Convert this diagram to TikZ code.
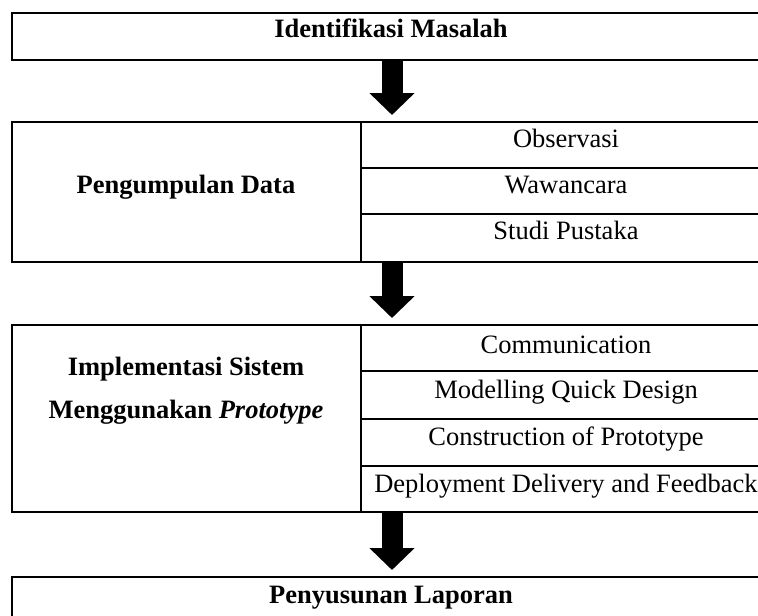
\documentclass[tikz,border=0pt]{standalone}
\usepackage{fontspec}
\setmainfont{Liberation Serif}
\usetikzlibrary{arrows.meta}

\tikzset{
  frame/.style={draw, line width=1.5pt, inner sep=0pt, anchor=north west, minimum width=760pt},
  rule/.style={line width=1.3pt},
  label/.style={anchor=base, inner sep=0pt, font=\fontsize{26.5}{30}\selectfont},
  head/.style={label, font=\fontsize{26.5}{30}\selectfont\bfseries},
  blockarrow/.style={line width=21pt, -{Triangle[width=44pt, length=22pt]}, shorten >=6pt}
}

\begin{document}
\begin{tikzpicture}[x=1pt, y=-1pt]
  \clip (0,0) rectangle (758,616);
  \fill[white] (0,0) rectangle (758,616);

  % main stages
  \node[frame, minimum height=47pt]  (ident) at (11,12)  {};
  \node[frame, minimum height=140pt] (pdata) at (11,121) {};
  \node[frame, minimum height=187pt] (impl)  at (11,324) {};
  \node[frame, minimum height=64pt]  (lap)   at (11,576) {};

  % table rules of the two middle stages
  \draw[rule] (361,121) -- (361,261);
  \draw[rule] (361,168) -- (771,168);
  \draw[rule] (361,214) -- (771,214);
  \draw[rule] (361,324) -- (361,511);
  \draw[rule] (361,371) -- (771,371);
  \draw[rule] (361,419) -- (771,419);
  \draw[rule] (361,466) -- (771,466);

  % texts
  \node[head]  (t1)  at (391,37)  {Identifikasi Masalah};
  \node[head]  (t2)  at (186,193) {Pengumpulan Data};
  \node[label] (t21) at (566,147) {Observasi};
  \node[label] (t22) at (566,193) {Wawancara};
  \node[label] (t23) at (566,239) {Studi Pustaka};
  \node[head]  (t3a) at (186,375) {Implementasi Sistem};
  \node[head]  (t3b) at (186,418) {Menggunakan \textit{Prototype}};
  \node[label] (t31) at (566,353) {Communication};
  \node[label] (t32) at (566,398) {Modelling Quick Design};
  \node[label] (t33) at (566,445) {Construction of Prototype};
  \node[label] (t34) at (566,492) {Deployment Delivery and Feedback};
  \node[head]  (t4)  at (391,603) {Penyusunan Laporan};

  % block arrows between stages
  \coordinate (ax) at (392,0);
  \draw[blockarrow] (ident.south -| ax) -- (pdata.north -| ax);
  \draw[blockarrow] (pdata.south -| ax) -- (impl.north -| ax);
  \draw[blockarrow] (impl.south -| ax)  -- (lap.north -| ax);
\end{tikzpicture}
\end{document}
